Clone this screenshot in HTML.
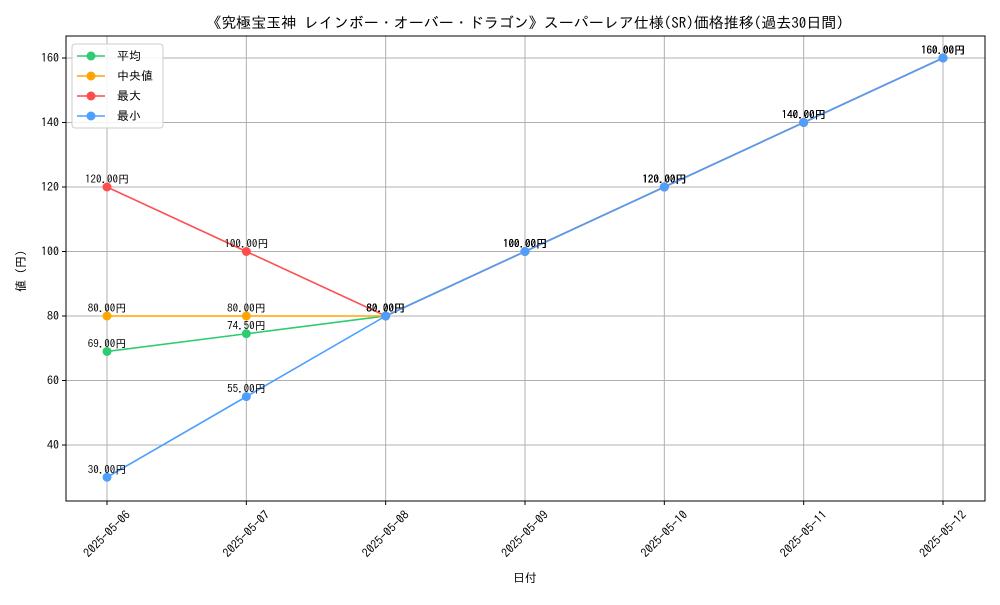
<!DOCTYPE html>
<html><head><meta charset="utf-8">
<style>
body{margin:0;background:#fff;}
svg text{font-family:"IPAGothic","Noto Sans CJK JP",sans-serif;fill:#000;}
</style></head>
<body>
<svg id="c" width="1000" height="600" xmlns="http://www.w3.org/2000/svg">
<rect width="1000" height="600" fill="#fff"/>
<text x="525" y="28" font-size="15" text-anchor="middle">《究極宝玉神 レインボー・オーバー・ドラゴン》スーパーレア仕様(SR)価格推移(過去30日間)</text>
<text x="525" y="582" font-size="12" text-anchor="middle">日付</text>
<text transform="translate(25,268) rotate(-90)" font-size="12" text-anchor="middle">値（円）</text>
<g id="grid"></g><g id="series"></g><g id="axes"></g>
</svg>
<script>
const dates=["2025-05-06","2025-05-07","2025-05-08","2025-05-09","2025-05-10","2025-05-11","2025-05-12"];
const avgVals=[69,74.5,80,100,120,140,160];
const medVals=[80,80,80,100,120,140,160];
const maxVals=[120,100,80,100,120,140,160];
const minVals=[30,55,80,100,120,140,160];
const yTicks=[40,60,80,100,120,140,160];
const seriesNames=["平均","中央値","最大","最小"];
const seriesColors=["#2ecc71","#ffa500","#ff4d4d","#4d9fff"];
const NS="http://www.w3.org/2000/svg";
const L=66,R=985,T=36,B=501;
const x=i=>107+i*(943-107)/(dates.length-1);
const y=v=>316-(v-80)*(64.5/20);
function mk(tag,attrs,parent){const e=document.createElementNS(NS,tag);for(const k in attrs)e.setAttribute(k,attrs[k]);parent.appendChild(e);return e;}
const grid=document.getElementById('grid'),axes=document.getElementById('axes'),ser=document.getElementById('series'),svg=document.getElementById('c');
dates.forEach((d,i)=>{
 const g=mk('line',{x1:x(i),x2:x(i),y1:T,y2:B,stroke:'#b0b0b0','stroke-width':1},grid);
 
 const t=mk('line',{x1:x(i),x2:x(i),y1:B,y2:B+4,stroke:'#000'},axes);
 
 const tx=mk('text',{x:0,y:4,'font-size':12,'text-anchor':'middle',transform:`translate(${x(i)},${B+33}) rotate(-45)`},axes);
 tx.textContent=d;
});
yTicks.forEach(v=>{
 const g=mk('line',{x1:L,x2:R,y1:y(v),y2:y(v),stroke:'#b0b0b0','stroke-width':1},grid);
 
 const t=mk('line',{x1:L-4,x2:L,y1:y(v),y2:y(v),stroke:'#000'},axes);
 
 const tx=mk('text',{x:L-7,y:y(v)+4,'font-size':12,'text-anchor':'end'},axes);
 tx.textContent=v;
});
const frame=mk('rect',{x:L,y:T,width:R-L,height:B-T,fill:'none',stroke:'#000','stroke-width':1},axes);

[avgVals,medVals,maxVals,minVals].forEach((vals,s)=>{
 const g=mk('g',{},ser);
 const p=mk('polyline',{points:vals.map((v,i)=>x(i)+','+y(v)).join(' '),fill:'none',stroke:seriesColors[s],'stroke-width':1.6},g);
 
 vals.forEach((v,i)=>{
  const c=mk('circle',{cx:x(i),cy:y(v),r:4.5,fill:seriesColors[s]},g);
  
  const t=mk('text',{x:x(i),y:y(v)-4,'font-size':11,'text-anchor':'middle'},g);
  t.textContent=v.toFixed(2)+'円';
 });
});
const lg=mk('g',{},svg);
mk('rect',{x:72,y:44,width:91,height:84,rx:3,fill:'#fff','fill-opacity':0.85,stroke:'#ccc'},lg);
seriesNames.forEach((n,s)=>{
 const yy=56+s*20;
 const e=mk('g',{},lg);
 mk('line',{x1:77,x2:105,y1:yy,y2:yy,stroke:seriesColors[s],'stroke-width':1.6},e);
 mk('circle',{cx:91,cy:yy,r:4.5,fill:seriesColors[s]},e);
 const t=mk('text',{x:117,y:yy+4,'font-size':12},e);t.textContent=n;
});
</script>
</body></html>
